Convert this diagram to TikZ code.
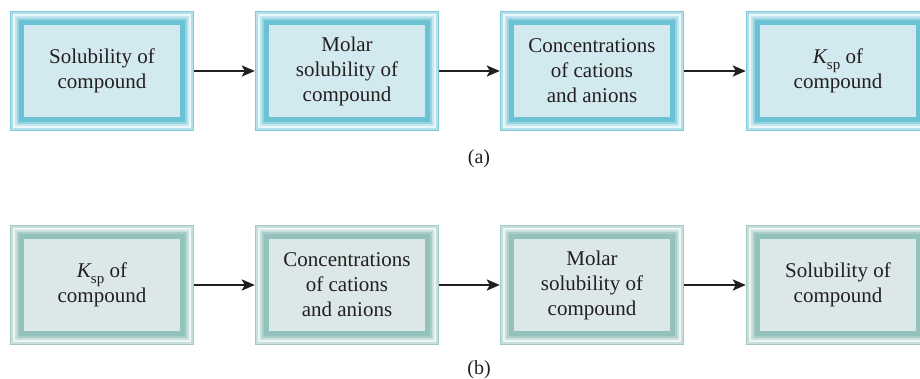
\documentclass[tikz,border=0pt]{standalone}
\usepackage{fontspec}
\setmainfont{Liberation Serif}
\usetikzlibrary{arrows.meta}
\definecolor{Ta}{HTML}{7FC9D8}
\definecolor{Tb}{HTML}{B3E0E9}
\definecolor{Tc}{HTML}{EAF6F8}
\definecolor{Td}{HTML}{C4E6EE}
\definecolor{Te}{HTML}{97D4E0}
\definecolor{Tf}{HTML}{6CC2D5}
\definecolor{Tg}{HTML}{D3E9F0}
\definecolor{Ba}{HTML}{A3CAC5}
\definecolor{Bb}{HTML}{C8E0DC}
\definecolor{Bc}{HTML}{EEF5F4}
\definecolor{Bd}{HTML}{CCE1DE}
\definecolor{Be}{HTML}{AACDC8}
\definecolor{Bf}{HTML}{93C1BB}
\definecolor{Bg}{HTML}{DCE8E7}
\definecolor{ink}{HTML}{231F20}
\newcommand\flowbox[5]{%
  \begin{scope}[shift={(#2,#3)}]
    \fill[#4a] (0,0) rectangle (184,120);
    \fill[#4b] (1.3,1.3) rectangle (182.7,118.7);
    \fill[#4c] (2.8,2.8) rectangle (181.2,117.2);
    \fill[#4d] (5.2,5.2) rectangle (178.8,114.8);
    \fill[#4e] (7.2,7.2) rectangle (176.8,112.8);
    \fill[#4f] (9.3,9.3) rectangle (174.7,110.7);
    \fill[#4g] (13.8,13.8) rectangle (170.2,106.2);
  \end{scope}
  \node[boxtext] (#1) at ({#2+92},{#3+60}) {#5};
}
\newcommand\Ksp{{\itshape K}\raisebox{-0.28em}{\fontsize{15}{15}\selectfont sp}}
\tikzset{
  boxtext/.style={minimum width=184pt, minimum height=120pt, inner sep=0pt,
    align=center, text=ink, font=\fontsize{21}{25}\selectfont},
  flowarrow/.style={draw=ink, line width=2.5pt, -{Stealth[length=13pt,width=11pt,inset=3pt]}},
  caption/.style={text=ink, font=\fontsize{20}{22}\selectfont}
}
\begin{document}
\begin{tikzpicture}[x=1pt,y=-1pt]
\clip (0,0) rectangle (920,379);
\fill[white] (0,0) rectangle (920,379);
% row (a)
\flowbox{a1}{10}{11}{T}{Solubility of\\compound}
\flowbox{a2}{255}{11}{T}{Molar\\solubility of\\compound}
\flowbox{a3}{500}{11}{T}{Concentrations\\of cations\\and anions}
\flowbox{a4}{746}{11}{T}{\Ksp{} of\\compound}
\draw[flowarrow] (a1.east) -- (a2.west);
\draw[flowarrow] (a2.east) -- (a3.west);
\draw[flowarrow] (a3.east) -- (a4.west);
\node[caption] (capa) at (479,159) {(a)};
% row (b)
\flowbox{b1}{10}{225}{B}{\Ksp{} of\\compound}
\flowbox{b2}{255}{225}{B}{Concentrations\\of cations\\and anions}
\flowbox{b3}{500}{225}{B}{Molar\\solubility of\\compound}
\flowbox{b4}{746}{225}{B}{Solubility of\\compound}
\draw[flowarrow] (b1.east) -- (b2.west);
\draw[flowarrow] (b2.east) -- (b3.west);
\draw[flowarrow] (b3.east) -- (b4.west);
\node[caption] (capb) at (479,370) {(b)};
\end{tikzpicture}
\end{document}
